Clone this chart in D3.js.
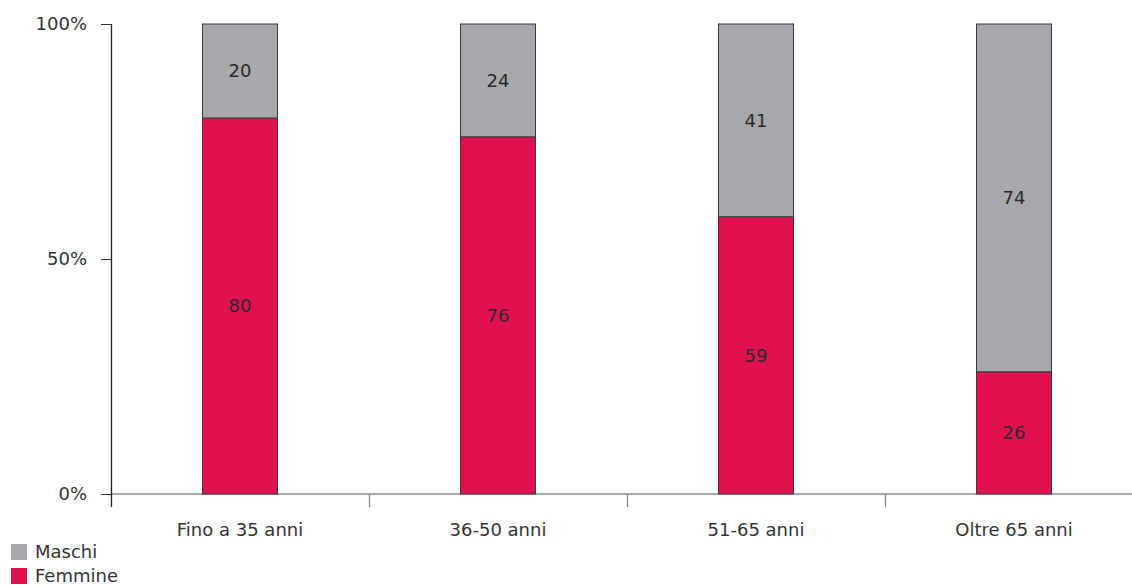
<!DOCTYPE html>
<html>
<head>
<meta charset="utf-8">
<script src="https://cdn.jsdelivr.net/npm/d3@7"></script>
<style>
  html, body { margin: 0; padding: 0; background: #fff; }
  svg { display: block; font-family: "DejaVu Sans", "Liberation Sans", sans-serif; }
</style>
</head>
<body>
<svg id="chart" width="1132" height="585"></svg>
<script>
// Age groups and gender shares (percent)
const categories = ["Fino a 35 anni", "36-50 anni", "51-65 anni", "Oltre 65 anni"];
const femmine = [80, 76, 59, 26];
const maschi = [20, 24, 41, 74];
const seriesNames = ["Maschi", "Femmine"];
const yTicks = [0, 50, 100];
const colors = { Maschi: "#a7a8ab", Femmine: "#e1104f" };

const svg = d3.select("#chart");
const plotLeft = 111, plotTop = 24, plotBottom = 494, bandW = 258;

const x = d3.scaleBand()
  .domain(categories)
  .range([plotLeft, plotLeft + bandW * categories.length])
  .paddingInner(0).paddingOuter(0);

const y = d3.scaleLinear().domain([0, 100]).range([plotBottom, plotTop]);

const barW = 75;

// Stacked data: Femmine at the bottom, Maschi on top
const rows = categories.map((c, i) => ({ cat: c, Femmine: femmine[i], Maschi: maschi[i] }));
const stack = d3.stack().keys(["Femmine", "Maschi"])(rows);

// X axis baseline and category separators
svg.append("line")
  .attr("x1", plotLeft).attr("x2", 1132)
  .attr("y1", plotBottom).attr("y2", plotBottom)
  .attr("stroke", "#8a8a8a").attr("stroke-width", 1.3);

categories.forEach((c, i) => {
  if (i === 0) return;
  svg.append("line")
    .attr("x1", x(c) + 0.5).attr("x2", x(c) + 0.5)
    .attr("y1", plotBottom).attr("y2", plotBottom + 13)
    .attr("stroke", "#8a8a8a").attr("stroke-width", 1.3);
});

// Bars
stack.forEach(layer => {
  svg.append("g")
    .selectAll("rect")
    .data(layer)
    .join("rect")
    .attr("x", d => x(d.data.cat) + (bandW - barW) / 2)
    .attr("width", barW)
    .attr("y", d => y(d[1]))
    .attr("height", d => y(d[0]) - y(d[1]))
    .attr("fill", colors[layer.key])
    .attr("stroke", "#3a3a3a")
    .attr("stroke-width", 1);

  svg.append("g")
    .selectAll("text")
    .data(layer)
    .join("text")
    .attr("x", d => x(d.data.cat) + bandW / 2)
    .attr("y", d => (y(d[0]) + y(d[1])) / 2)
    .attr("dy", "0.35em")
    .attr("text-anchor", "middle")
    .attr("font-size", 18)
    .attr("fill", "#2a2a2a")
    .text(d => d.data[layer.key]);
});

// Y axis
const yAxis = d3.axisLeft(y)
  .tickValues(yTicks)
  .tickSize(10)
  .tickPadding(14)
  .tickFormat(d => d + "%");

const yg = svg.append("g").attr("transform", `translate(${plotLeft},0)`).call(yAxis);
yg.select(".domain").remove();
yg.selectAll(".tick line").attr("stroke", "#333");
yg.selectAll(".tick text")
  .attr("font-size", 18)
  .attr("fill", "#333")
  .attr("font-family", "\"DejaVu Sans\", sans-serif");

svg.append("line")
  .attr("x1", plotLeft + 0.5).attr("x2", plotLeft + 0.5)
  .attr("y1", plotTop).attr("y2", plotBottom + 13)
  .attr("stroke", "#222").attr("stroke-width", 1.3);

// Category labels
svg.append("g")
  .selectAll("text")
  .data(categories)
  .join("text")
  .attr("x", d => x(d) + bandW / 2)
  .attr("y", 530)
  .attr("dy", "0.35em")
  .attr("text-anchor", "middle")
  .attr("font-size", 18)
  .attr("fill", "#333")
  .text(d => d);

// Legend
const legend = svg.append("g")
  .selectAll("g")
  .data(seriesNames)
  .join("g")
  .attr("transform", (d, i) => `translate(11,${544 + i * 24})`);

legend.append("rect")
  .attr("width", 16).attr("height", 16)
  .attr("fill", d => colors[d]);

legend.append("text")
  .attr("x", 24).attr("y", 8)
  .attr("dy", "0.35em")
  .attr("font-size", 18)
  .attr("fill", "#333")
  .text(d => d);
</script>
</body>
</html>
